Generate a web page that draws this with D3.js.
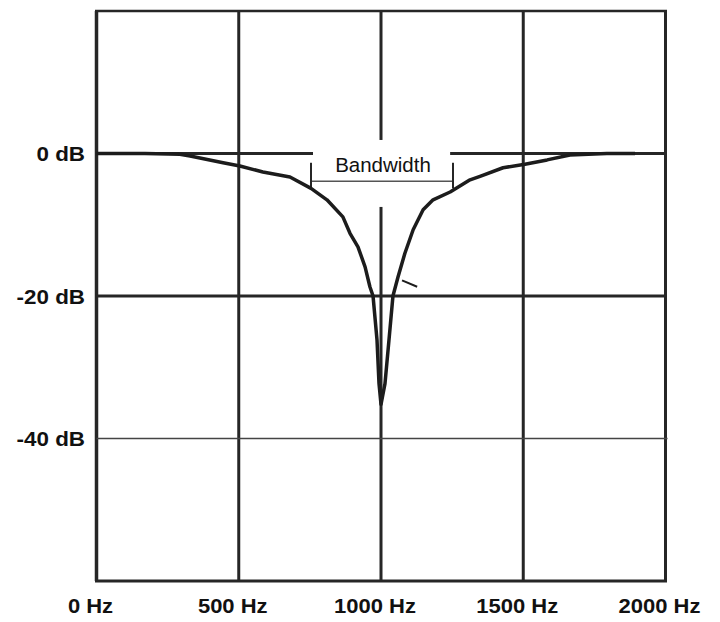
<!DOCTYPE html>
<html>
<head>
<meta charset="utf-8">
<script src="https://cdn.jsdelivr.net/npm/d3@7"></script>
<style>
  body { margin: 0; background: #fff; }
  text { font-family: "Liberation Sans", Arial, sans-serif; }
</style>
</head>
<body>
<script>
// notch filter response
var freqs = [0, 170, 293, 329, 445, 504, 585, 680, 754, 810, 866, 891, 919, 944, 961, 972, 986, 993, 1000,
             1014, 1028, 1042, 1060, 1084, 1113, 1148, 1183, 1243, 1313, 1348, 1429, 1506, 1584, 1664, 1794, 1893];
var gains = [0, 0, -0.1, -0.35, -1.3, -1.75, -2.6, -3.3, -4.9, -6.5, -8.9, -11.2, -13.1, -15.9, -18.7, -20, -26.2, -32.3, -35.2,
             -32.3, -26.2, -20, -17.3, -14, -10.7, -7.9, -6.5, -5.4, -3.7, -3.2, -2.0, -1.5, -0.9, -0.2, 0, 0];

// little stray stroke on the right branch
var spurFreqs = [1074, 1127];
var spurGains = [-17.8, -18.7];

var xTicks = [0, 500, 1000, 1500, 2000];
var xTickLabels = ["0 Hz", "500 Hz", "1000 Hz", "1500 Hz", "2000 Hz"];
var yTicks = [0, -20, -40];
var yTickLabels = ["0 dB", "-20 dB", "-40 dB"];

// bandwidth marker
var bwEdges = [754, 1253];
var bwLevel = -3.9;
var bwTickRange = [-1.3, -4.9];
var bwLabel = "Bandwidth";
var bwBoxFreqs = [761, 1243];
var bwBoxGains = [1.9, -7.5];

var width = 720, height = 622;

var svg = d3.select("body").append("svg")
    .attr("width", width)
    .attr("height", height);

var x = d3.scaleLinear().domain([0, 2000]).range([96.5, 665.5]),
    y = d3.scaleLinear().domain([-60, 20]).range([581, 11]);

var ink = "#262626";

// vertical grid lines
svg.append("g")
  .selectAll("line")
  .data(xTicks)
  .enter().append("line")
    .attr("x1", function(d) { return x(d); })
    .attr("x2", function(d) { return x(d); })
    .attr("y1", y(20))
    .attr("y2", y(-60))
    .attr("stroke", ink)
    .attr("stroke-width", function(d) { return d === 0 ? 3.5 : 3; });

// horizontal grid lines, -40 dB one is thinner
svg.append("g")
  .selectAll("line")
  .data(yTicks)
  .enter().append("line")
    .attr("x1", x(0))
    .attr("x2", function(d) { return d === -40 ? x(2000) + 2 : x(2000); })
    .attr("y1", function(d) { return y(d); })
    .attr("y2", function(d) { return y(d); })
    .attr("stroke", function(d) { return d === -40 ? "#444" : ink; })
    .attr("stroke-width", function(d) { return d === -40 ? 1.4 : 3; });

// frame top / bottom
svg.append("line")
    .attr("x1", x(0) - 1.5).attr("x2", x(2000) + 1.5)
    .attr("y1", y(20)).attr("y2", y(20))
    .attr("stroke", ink).attr("stroke-width", 2.5);
svg.append("line")
    .attr("x1", x(0) - 1.5).attr("x2", x(2000) + 1.5)
    .attr("y1", y(-60)).attr("y2", y(-60))
    .attr("stroke", ink).attr("stroke-width", 3);

// white box under the label
svg.append("rect")
    .attr("x", x(bwBoxFreqs[0]))
    .attr("y", y(bwBoxGains[0]))
    .attr("width", x(bwBoxFreqs[1]) - x(bwBoxFreqs[0]))
    .attr("height", y(bwBoxGains[1]) - y(bwBoxGains[0]))
    .attr("fill", "#fff");

// bandwidth bracket
svg.append("line")
    .attr("x1", x(bwEdges[0])).attr("x2", x(bwEdges[1]))
    .attr("y1", y(bwLevel)).attr("y2", y(bwLevel))
    .attr("stroke", "#555").attr("stroke-width", 1.6);
svg.append("g")
  .selectAll("line")
  .data(bwEdges)
  .enter().append("line")
    .attr("x1", function(d) { return x(d); })
    .attr("x2", function(d) { return x(d); })
    .attr("y1", y(bwTickRange[0]))
    .attr("y2", y(bwTickRange[1]))
    .attr("stroke", ink)
    .attr("stroke-width", 2);

svg.append("text")
    .attr("x", x((bwEdges[0] + bwEdges[1]) / 2) + 1)
    .attr("y", y(bwLevel) - 9.5)
    .attr("text-anchor", "middle")
    .style("font-size", "20.5px")
    .attr("fill", "#111")
    .text(bwLabel);

// response curve
var line = d3.line()
    .x(function(d) { return x(d[0]); })
    .y(function(d) { return y(d[1]); });

svg.append("path")
    .datum(d3.zip(freqs, gains))
    .attr("d", line)
    .attr("fill", "none")
    .attr("stroke", "#1c1c1c")
    .attr("stroke-width", 3.5)
    .attr("stroke-linejoin", "round");

svg.append("path")
    .datum(d3.zip(spurFreqs, spurGains))
    .attr("d", line)
    .attr("fill", "none")
    .attr("stroke", "#1c1c1c")
    .attr("stroke-width", 2);

// axis labels, bold and a bit wide
svg.append("g")
  .selectAll("text")
  .data(yTicks)
  .enter().append("text")
    .attr("transform", function(d) { return "translate(85," + (y(d) + 7.5) + ") scale(1.12,1)"; })
    .attr("text-anchor", "end")
    .style("font-size", "20px")
    .style("font-weight", "bold")
    .attr("fill", "#111")
    .text(function(d, i) { return yTickLabels[i]; });

svg.append("g")
  .selectAll("text")
  .data(xTicks)
  .enter().append("text")
    .attr("transform", function(d) { return "translate(" + (x(d) - 6) + ",613) scale(1.1,1)"; })
    .attr("text-anchor", "middle")
    .style("font-size", "20px")
    .style("font-weight", "bold")
    .attr("fill", "#111")
    .text(function(d, i) { return xTickLabels[i]; });
</script>
</body>
</html>
